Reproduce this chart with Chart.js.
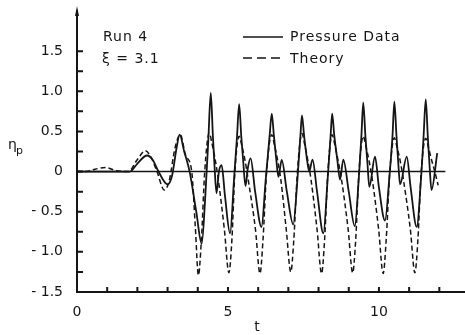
<!DOCTYPE html>
<html>
<head>
<meta charset="utf-8">
<script src="https://cdn.jsdelivr.net/npm/chart.js@4/dist/chart.umd.min.js"></script>
<style>
  html, body { margin: 0; padding: 0; background: #fff; }
</style>
</head>
<body>
<canvas id="grafico" width="465" height="335"></canvas>
<script>
// Run 4, xi = 3.1 : measured pressure vs theory
const pressureT = [0, 0.5, 1.0, 1.5, 1.75, 2.0, 2.32, 2.5, 2.7, 3.0, 3.15, 3.3, 3.4, 3.55, 3.73, 3.95,
  4.13, 4.25, 4.35, 4.43, 4.5, 4.55, 4.62, 4.7, 4.79, 4.9,
  5.07, 5.2, 5.3, 5.37, 5.44, 5.5, 5.58, 5.66, 5.75, 5.9,
  6.11, 6.25, 6.38, 6.45, 6.52, 6.6, 6.67, 6.78, 6.95,
  7.16, 7.3, 7.4, 7.45, 7.52, 7.6, 7.69, 7.8, 7.95,
  8.16, 8.3, 8.4, 8.45, 8.52, 8.62, 8.71, 8.82, 9.0,
  9.2, 9.33, 9.42, 9.48, 9.55, 9.62, 9.68, 9.87, 10.0,
  10.2, 10.35, 10.45, 10.51, 10.58, 10.65, 10.7, 10.92, 11.05,
  11.25, 11.4, 11.48, 11.55, 11.62, 11.68, 11.74, 11.93];
const pressureEta = [0, 0, 0, 0, 0, 0.1, 0.2, 0.15, 0, -0.16, -0.05, 0.3, 0.46, 0.25, 0, -0.5,
  -0.9, -0.3, 0.4, 0.98, 0.45, 0.1, -0.27, 0, 0.08, -0.3,
  -0.77, -0.1, 0.44, 0.84, 0.44, 0.15, -0.18, 0.05, 0.165, -0.25,
  -0.69, -0.1, 0.45, 0.72, 0.45, 0.15, -0.065, 0.145, -0.25,
  -0.66, -0.1, 0.45, 0.7, 0.45, 0.2, 0, 0.15, -0.25,
  -0.77, -0.1, 0.45, 0.72, 0.45, 0.15, -0.1, 0.15, -0.25,
  -0.68, -0.1, 0.45, 0.86, 0.45, 0.1, -0.19, 0.185, -0.2,
  -0.61, -0.05, 0.45, 0.87, 0.45, 0.05, -0.16, 0.185, -0.2,
  -0.69, -0.05, 0.45, 0.9, 0.42, 0.05, -0.23, 0.23];

const theoryT = [0, 0.3, 0.6, 0.95, 1.3, 1.7, 2.0, 2.26, 2.45, 2.65, 2.89, 3.05, 3.25, 3.42, 3.6, 3.8, 3.92,
  4.02, 4.12, 4.23, 4.38, 4.47, 4.57, 4.68, 4.88,
  5.03, 5.13, 5.23, 5.37, 5.46, 5.56, 5.67, 5.91,
  6.06, 6.16, 6.28, 6.45, 6.54, 6.64, 6.75, 6.93,
  7.08, 7.18, 7.3, 7.45, 7.54, 7.64, 7.75, 7.95,
  8.1, 8.2, 8.31, 8.45, 8.54, 8.64, 8.76, 8.98,
  9.13, 9.23, 9.34, 9.48, 9.57, 9.67, 9.78, 9.99,
  10.14, 10.24, 10.36, 10.51, 10.6, 10.7, 10.81, 11.04,
  11.19, 11.29, 11.4, 11.55, 11.64, 11.74, 11.85, 11.96];
const theoryEta = [0, 0, 0.03, 0.05, 0.01, 0, 0.15, 0.26, 0.18, 0, -0.23, -0.12, 0.3, 0.46, 0.2, 0, -0.7,
  -1.29, -0.85, 0, 0.48, 0.35, 0.165, -0.1, -0.72,
  -1.26, -0.85, 0, 0.44, 0.32, 0.15, -0.1, -0.72,
  -1.27, -0.85, 0, 0.46, 0.33, 0.15, -0.1, -0.72,
  -1.25, -0.85, 0, 0.475, 0.34, 0.15, -0.1, -0.72,
  -1.27, -0.85, 0, 0.46, 0.33, 0.15, -0.1, -0.72,
  -1.26, -0.85, 0, 0.44, 0.31, 0.14, -0.1, -0.72,
  -1.27, -0.85, 0, 0.42, 0.3, 0.14, -0.1, -0.72,
  -1.26, -0.85, 0, 0.415, 0.3, 0.15, 0, -0.17];

const yLabelValues = [-1.5, -1.0, -0.5, 0, 0.5, 1.0, 1.5];
const yLabelTexts = ['- 1.5', '- 1.0', '- 0.5', '0', '0.5', '1.0', '1.5'];
const yTickMarks = [-1.25, -1.0, -0.75, -0.5, -0.25, 0, 0.25, 0.5, 0.75, 1.0, 1.25, 1.5];
const xLabelValues = [0, 5, 10];
const xLabelTexts = ['0', '5', '10'];
const xTickMarks = [1, 2, 3, 4, 5, 6, 7, 8, 9, 10, 11, 12];
const zeroLineEnd = 12.2;

const ink = '#151515';
const fuente = '14px "DejaVu Sans"';

function pares(xs, ys) {
    return xs.map(function(x, i) { return { x: x, y: ys[i] }; });
}

function etiqueta(valores, textos, v) {
    const i = valores.findIndex(function(a) { return Math.abs(a - v) < 1e-6; });
    return i >= 0 ? textos[i] : '';
}

const adornos = {
    id: 'adornos',
    afterDraw(chart) {
        const ctx = chart.ctx;
        const sx = chart.scales.x;
        const sy = chart.scales.y;
        const x0 = sx.getPixelForValue(0);
        const yb = sy.getPixelForValue(-1.5);
        ctx.save();
        ctx.strokeStyle = ink;
        ctx.fillStyle = ink;

        // zero line
        ctx.lineWidth = 1.5;
        ctx.beginPath();
        ctx.moveTo(x0, sy.getPixelForValue(0));
        ctx.lineTo(sx.getPixelForValue(zeroLineEnd), sy.getPixelForValue(0));
        ctx.stroke();

        // tick marks, pointing inward
        ctx.lineWidth = 2;
        ctx.beginPath();
        yTickMarks.forEach(function(v) {
            const py = sy.getPixelForValue(v);
            ctx.moveTo(x0, py);
            ctx.lineTo(x0 + 6, py);
        });
        xTickMarks.forEach(function(v) {
            const px = sx.getPixelForValue(v);
            ctx.moveTo(px, yb);
            ctx.lineTo(px, yb - 5);
        });
        ctx.stroke();

        // arrow on the y axis
        const top = chart.chartArea.top;
        ctx.beginPath();
        ctx.moveTo(x0, top - 5);
        ctx.lineTo(x0 - 2, top + 5);
        ctx.lineTo(x0 + 2, top + 5);
        ctx.closePath();
        ctx.fill();

        // annotations
        ctx.font = fuente;
        ctx.letterSpacing = '1px';
        ctx.textBaseline = 'middle';
        ctx.textAlign = 'left';
        ctx.fillText('Run 4', 103, 37);
        ctx.fillText('\u03BE = 3.1', 102, 59);
        ctx.fillText('Pressure Data', 290, 37);
        ctx.fillText('Theory', 290, 59);
        ctx.letterSpacing = '0px';

        // legend samples
        ctx.lineWidth = 1.6;
        ctx.beginPath();
        ctx.moveTo(243, 37);
        ctx.lineTo(283, 37);
        ctx.stroke();
        ctx.setLineDash([9, 5]);
        ctx.beginPath();
        ctx.moveTo(243, 58);
        ctx.lineTo(283, 58);
        ctx.stroke();
        ctx.setLineDash([]);

        // axis titles
        ctx.font = '14px "DejaVu Sans"';
        ctx.fillText('\u03B7', 8, 145);
        ctx.font = '11px "DejaVu Sans"';
        ctx.fillText('p', 16, 151);
        ctx.font = fuente;
        ctx.textAlign = 'center';
        ctx.fillText('t', 257, 327);
        ctx.restore();
    }
};

const ctx = document.getElementById('grafico').getContext('2d');
const grafico = new Chart(ctx, {
    type: 'line',
    data: {
        datasets: [{
            label: 'Pressure Data',
            data: pares(pressureT, pressureEta),
            borderColor: ink,
            borderWidth: 1.8,
            pointRadius: 0,
            fill: false,
            cubicInterpolationMode: 'monotone'
        }, {
            label: 'Theory',
            data: pares(theoryT, theoryEta),
            borderColor: ink,
            borderWidth: 1.5,
            borderDash: [5, 3],
            pointRadius: 0,
            fill: false,
            cubicInterpolationMode: 'monotone'
        }]
    },
    options: {
        responsive: false,
        animation: false,
        devicePixelRatio: 1,
        layout: { padding: { top: 11, right: 0, left: 0, bottom: 0 } },
        plugins: {
            legend: { display: false },
            tooltip: { enabled: false }
        },
        scales: {
            x: {
                type: 'linear',
                min: 0,
                max: 12.85,
                grid: { display: false, drawTicks: false },
                border: { display: true, color: ink, width: 2 },
                afterFit: function(s) {
                    s.height = 43;
                    s.paddingLeft = 0;
                    s.paddingRight = 0;
                },
                ticks: {
                    stepSize: 1,
                    autoSkip: false,
                    maxRotation: 0,
                    padding: 12,
                    color: ink,
                    font: { family: 'DejaVu Sans', size: 14 },
                    callback: function(v) { return etiqueta(xLabelValues, xLabelTexts, v); }
                }
            },
            y: {
                type: 'linear',
                min: -1.5,
                max: 2.0,
                grid: { display: false, drawTicks: false },
                border: { display: true, color: ink, width: 2 },
                afterFit: function(s) {
                    s.width = 77;
                    s.paddingTop = 0;
                    s.paddingBottom = 0;
                },
                ticks: {
                    stepSize: 0.25,
                    autoSkip: false,
                    padding: 14,
                    color: ink,
                    font: { family: 'DejaVu Sans', size: 14 },
                    callback: function(v) { return etiqueta(yLabelValues, yLabelTexts, v); }
                }
            }
        }
    },
    plugins: [adornos]
});
</script>
</body>
</html>
